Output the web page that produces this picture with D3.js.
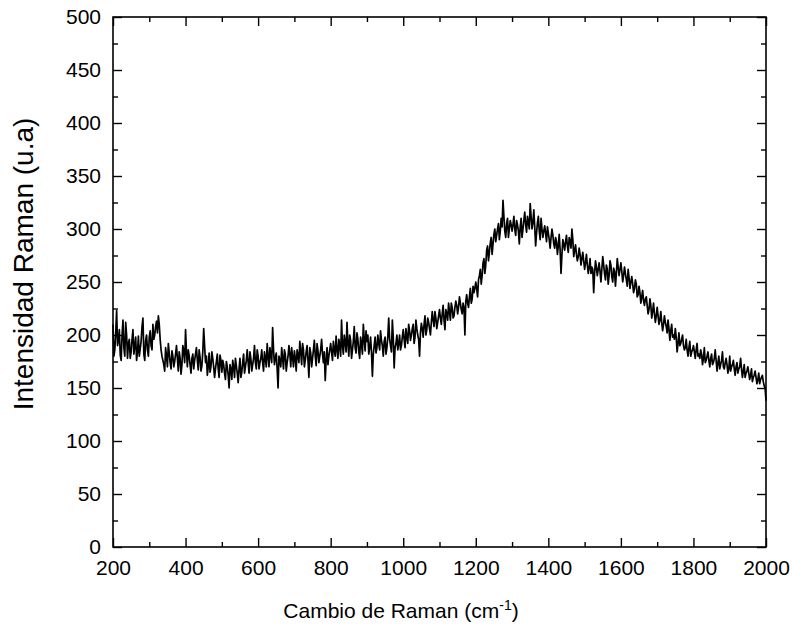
<!DOCTYPE html>
<html>
<head>
<meta charset="utf-8">
<script src="https://cdn.jsdelivr.net/npm/d3@7"></script>
<style>
  body { margin: 0; background: #fff; }
  text { font-family: Arial, "Liberation Sans", sans-serif; fill: #000; }
</style>
</head>
<body>
<div id="chart"></div>
<script>
// spectrum: intensity at 200, 205, ... 2000 cm-1
const shiftStart = 200;
const shiftStep = 5;
const intensity = [
  210,186,223,195,181,200,188,212,178,196,184,205,190,176,199,187,208,182,195,186,
  198,190,210,200,213,218,196,180,172,188,170,183,168,180,175,190,166,178,172,185,
  205,170,180,164,182,176,188,167,179,171,206,174,162,183,170,178,160,175,168,181,
  165,172,158,170,150,168,176,160,171,155,178,165,182,170,186,164,178,172,190,168,
  180,174,186,166,178,192,170,181,207,172,183,150,176,188,168,182,174,190,170,179,
  185,166,181,194,172,186,176,190,160,183,178,195,171,185,180,196,174,157,188,180,
  192,176,186,199,178,190,214,182,193,212,180,195,186,208,183,196,178,192,210,185,
  194,182,198,161,190,183,200,186,195,180,198,188,216,190,214,169,192,186,200,190,
  205,188,198,210,195,206,192,214,200,180,211,198,218,205,212,200,222,208,216,212,
  224,210,228,205,220,230,214,226,218,232,220,236,224,230,200,238,226,244,234,240,
  250,236,256,248,268,258,280,270,287,276,295,288,300,290,310,327,298,305,292,308,
  298,312,294,304,286,310,300,316,297,306,324,300,318,284,306,298,310,292,303,288,
  296,282,300,286,292,276,295,258,290,280,294,278,288,300,274,285,270,282,266,278,
  262,276,258,272,264,240,270,256,268,250,274,258,266,248,270,255,263,246,272,256,
  268,250,264,252,262,244,255,240,252,236,246,230,242,228,236,220,234,216,230,212,
  226,210,222,204,218,208,214,195,210,200,206,184,202,192,200,186,196,180,194,184,
  190,178,192,182,186,172,188,176,184,170,182,174,186,166,180,172,184,168,178,164,
  180,170,176,162,174,168,178,160,172,164,170,158,168,160,166,154,164,158,162,152,138
];
// intensity at the half steps 202.5, 207.5, ... 1997.5 cm-1
const intensityMid = [
  180,202,190,205,176,214,180,200,192,178,196,182,198,184,180,194,216,176,200,180,
  204,186,196,208,202,210,186,176,166,180,192,174,185,170,182,178,184,163,190,174,
  184,186,172,178,168,182,176,186,166,184,190,180,170,165,184,170,168,182,160,176,
  176,164,175,162,172,158,170,178,164,168,160,174,164,176,174,184,166,178,174,186,
  168,178,174,184,170,180,188,174,186,178,168,180,170,178,186,166,180,182,188,170,
  178,186,174,184,192,170,184,176,188,170,186,180,192,174,186,182,184,176,172,186,
  184,194,180,186,196,180,190,200,184,192,200,178,194,188,202,184,198,182,196,204,
  200,188,184,182,198,188,192,204,190,194,182,198,196,184,198,188,200,192,186,198,
  196,206,192,204,200,210,198,206,196,202,206,210,200,216,206,212,214,222,206,218,
  216,220,214,224,214,222,230,216,226,228,226,230,220,226,232,230,236,230,246,244,
  244,252,262,256,272,266,284,278,292,286,300,294,305,298,302,312,292,310,300,304,
  304,300,308,298,302,292,308,304,312,300,312,306,302,296,312,290,300,298,296,302,
  290,292,294,282,288,284,280,276,286,288,284,292,282,290,280,276,274,276,272,270,
  268,266,264,258,262,258,264,262,260,262,266,252,262,256,266,250,260,258,264,262,
  260,256,258,246,254,250,248,244,248,238,240,236,232,234,228,224,228,222,220,218,
  218,214,212,210,212,202,206,204,198,196,198,192,190,196,190,188,186,188,180,186,
  184,186,180,178,182,178,174,180,176,178,172,178,176,174,168,176,170,174,172,168,
  166,172,168,170,164,170,168,166,160,166,164,162,156,162,160,158,154,160,156,150
];

const xMajorTicks = [200, 400, 600, 800, 1000, 1200, 1400, 1600, 1800, 2000];
const xMinorTicks = [300, 500, 700, 900, 1100, 1300, 1500, 1700, 1900];
const yMajorTicks = [0, 50, 100, 150, 200, 250, 300, 350, 400, 450, 500];
const yMinorTicks = [25, 75, 125, 175, 225, 275, 325, 375, 425, 475];

// merge whole and half steps into one ordered series
const spectrum = [];
intensity.forEach((v, i) => {
  spectrum.push({ shift: shiftStart + i * shiftStep, value: v });
  if (i < intensityMid.length) {
    spectrum.push({ shift: shiftStart + (i + 0.5) * shiftStep, value: intensityMid[i] });
  }
});

const margin = { top: 17, right: 26, bottom: 82, left: 113 };
const containerWidth = 792, containerHeight = 629;
const width = containerWidth - margin.left - margin.right;
const height = containerHeight - margin.top - margin.bottom;

const svg = d3.select("#chart")
  .append("svg")
  .attr("width", containerWidth)
  .attr("height", containerHeight);

const g = svg.append("g")
  .attr("transform", `translate(${margin.left},${margin.top})`);

const x = d3.scaleLinear().domain([200, 2000]).range([0, width]);
const y = d3.scaleLinear().domain([0, 500]).range([height, 0]);

const majorLen = 9, minorLen = 5;

function styleAxis(sel) {
  sel.select(".domain").remove();
  sel.selectAll(".tick line").attr("stroke", "#000").attr("stroke-width", 1.4);
  sel.selectAll(".tick text").style("font-size", "21px");
}

// bottom
g.append("g").attr("transform", `translate(0,${height})`)
  .call(d3.axisBottom(x).tickValues(xMajorTicks).tickSize(-majorLen).tickPadding(13).tickFormat(d3.format("d")))
  .call(styleAxis);
g.append("g").attr("transform", `translate(0,${height})`)
  .call(d3.axisBottom(x).tickValues(xMinorTicks).tickSize(-minorLen).tickFormat(""))
  .call(styleAxis);
// top
g.append("g")
  .call(d3.axisTop(x).tickValues(xMajorTicks).tickSize(-majorLen).tickFormat(""))
  .call(styleAxis);
g.append("g")
  .call(d3.axisTop(x).tickValues(xMinorTicks).tickSize(-minorLen).tickFormat(""))
  .call(styleAxis);
// left
g.append("g")
  .call(d3.axisLeft(y).tickValues(yMajorTicks).tickSize(-majorLen).tickPadding(12).tickFormat(d3.format("d")))
  .call(styleAxis);
g.append("g")
  .call(d3.axisLeft(y).tickValues(yMinorTicks).tickSize(-minorLen).tickFormat(""))
  .call(styleAxis);
// right
g.append("g").attr("transform", `translate(${width},0)`)
  .call(d3.axisRight(y).tickValues(yMajorTicks).tickSize(-majorLen).tickFormat(""))
  .call(styleAxis);
g.append("g").attr("transform", `translate(${width},0)`)
  .call(d3.axisRight(y).tickValues(yMinorTicks).tickSize(-minorLen).tickFormat(""))
  .call(styleAxis);

// frame
g.append("rect")
  .attr("width", width)
  .attr("height", height)
  .attr("fill", "none")
  .attr("stroke", "#000")
  .attr("stroke-width", 1.6);

// spectrum line
const line = d3.line()
  .x(d => x(d.shift))
  .y(d => y(d.value));

g.append("path")
  .datum(spectrum)
  .attr("d", line)
  .attr("fill", "none")
  .attr("stroke", "#000")
  .attr("stroke-width", 1.7)
  .attr("stroke-linejoin", "round");

// axis titles
const xTitle = svg.append("text")
  .attr("x", 401)
  .attr("y", 618)
  .attr("text-anchor", "middle")
  .style("font-size", "21px");
xTitle.append("tspan").text("Cambio de Raman (cm");
xTitle.append("tspan").attr("dy", -8).style("font-size", "14px").text("-1");
xTitle.append("tspan").attr("dy", 8).text(")");

svg.append("text")
  .attr("transform", "translate(33,264) rotate(-90)")
  .attr("text-anchor", "middle")
  .style("font-size", "28px")
  .text("Intensidad Raman (u.a)");
</script>
</body>
</html>
